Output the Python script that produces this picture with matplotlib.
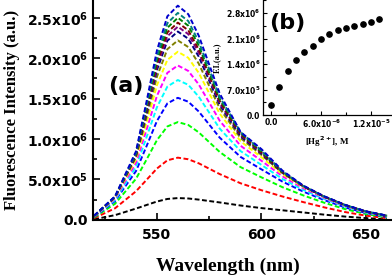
import matplotlib
matplotlib.use("Agg")
import matplotlib.pyplot as plt
from matplotlib.ticker import MultipleLocator

plt.rcParams['mathtext.default'] = 'bf'

wl = [520, 530, 540, 545, 550, 555, 560, 565, 570, 580, 590, 600, 610, 620, 630, 640, 650, 660]

# fluorescence intensity (x1e5 a.u.), one spectrum per Hg2+ addition
s00 = [0.08, 0.59, 1.40, 1.84, 2.27, 2.59, 2.70, 2.65, 2.51, 2.16, 1.78, 1.46, 1.19, 0.92, 0.65, 0.41, 0.22, 0.08]
s01 = [0.21, 1.44, 3.54, 4.94, 6.35, 7.37, 7.70, 7.50, 7.00, 5.67, 4.53, 3.67, 2.90, 2.20, 1.55, 0.97, 0.52, 0.21]
s02 = [0.30, 2.00, 5.08, 7.44, 9.86, 11.56, 12.10, 11.74, 10.83, 8.41, 6.53, 5.26, 4.05, 3.03, 2.12, 1.33, 0.73, 0.30]
s03 = [0.36, 2.33, 6.04, 9.09, 12.23, 14.41, 15.10, 14.62, 13.41, 10.18, 7.79, 6.25, 4.74, 3.50, 2.45, 1.54, 0.85, 0.36]
s04 = [0.40, 2.47, 6.57, 10.19, 13.93, 16.49, 17.30, 16.71, 15.24, 11.30, 8.51, 6.80, 5.07, 3.70, 2.58, 1.63, 0.90, 0.40]
s05 = [0.43, 2.63, 7.07, 11.13, 15.33, 18.19, 19.10, 18.43, 16.76, 12.27, 9.17, 7.31, 5.40, 3.92, 2.72, 1.72, 0.96, 0.43]
s06 = [0.46, 2.75, 7.49, 11.98, 16.64, 19.80, 20.80, 20.05, 18.18, 13.15, 9.73, 7.74, 5.66, 4.08, 2.83, 1.79, 1.00, 0.46]
s07 = [0.48, 2.81, 7.77, 12.64, 17.70, 21.12, 22.20, 21.38, 19.33, 13.80, 10.12, 8.03, 5.81, 4.15, 2.87, 1.82, 1.02, 0.48]
s08 = [0.49, 2.82, 7.92, 13.12, 18.52, 22.16, 23.30, 22.41, 20.20, 14.24, 10.35, 8.18, 5.85, 4.15, 2.87, 1.82, 1.03, 0.49]
s09 = [0.50, 2.84, 8.03, 13.39, 18.98, 22.72, 23.90, 22.98, 20.69, 14.50, 10.50, 8.29, 5.90, 4.17, 2.88, 1.83, 1.03, 0.50]
s10 = [0.50, 2.85, 8.10, 13.61, 19.35, 23.19, 24.40, 23.45, 21.09, 14.70, 10.60, 8.36, 5.92, 4.17, 2.87, 1.83, 1.03, 0.50]
s11 = [0.51, 2.86, 8.20, 13.88, 19.80, 23.76, 25.00, 24.02, 21.57, 14.96, 10.74, 8.46, 5.96, 4.18, 2.88, 1.83, 1.04, 0.51]
s12 = [0.52, 2.87, 8.29, 14.15, 20.25, 24.33, 25.60, 24.59, 22.05, 15.21, 10.87, 8.56, 6.00, 4.19, 2.88, 1.83, 1.04, 0.52]
s13 = [0.53, 2.92, 8.48, 14.58, 20.94, 25.18, 26.50, 25.44, 22.79, 15.64, 10.87, 8.75, 6.10, 4.24, 2.92, 1.86, 1.06, 0.53]
spectra = [s00, s01, s02, s03, s04, s05, s06, s07, s08, s09, s10, s11, s12, s13]

colors = ['#000000', '#ff0000', '#00ff00', '#0000ff', '#00ffff', '#ff00ff', '#ffff00',
          '#808000', '#000080', '#800080', '#800000', '#008000', '#008080', '#0000cc']

# inset: [Hg2+] (M) vs intensity at the maximum (x1e6)
hg = [0e-6, 1e-6, 2e-6, 3e-6, 4e-6, 5e-6, 6e-6, 7e-6, 8e-6, 9e-6, 10e-6, 11e-6, 12e-6, 13e-6]
fi = [0.27, 0.77, 1.21, 1.51, 1.73, 1.91, 2.08, 2.22, 2.33, 2.39, 2.44, 2.50, 2.56, 2.65]

fig = plt.figure(figsize=(3.92, 2.78), dpi=100)
ax = fig.add_axes([0.237, 0.209, 0.763, 0.791])

for s, c in zip(spectra, colors):
    ax.plot(wl, [v * 1e5 for v in s], color=c, lw=1.4, dashes=(2.5, 1.3))

ax.set_xlim(519.4, 662.4)
ax.set_ylim(0, 2.72e6)
ax.set_xticks([550, 600, 650])
ax.xaxis.set_minor_locator(MultipleLocator(25))
ax.set_yticks([0, 0.5e6, 1.0e6, 1.5e6, 2.0e6, 2.5e6])
ax.set_yticklabels(['0.0', r'5.0x10$^{5}$', r'1.0x10$^{6}$', r'1.5x10$^{6}$',
                    r'2.0x10$^{6}$', r'2.5x10$^{6}$'])
ax.yaxis.set_minor_locator(MultipleLocator(0.25e6))
ax.tick_params(which='both', direction='in', width=1.2, labelsize=10)
ax.tick_params(axis='x', pad=6)
ax.tick_params(which='major', length=5)
ax.tick_params(which='minor', length=3)
for lab in ax.get_xticklabels() + ax.get_yticklabels():
    lab.set_fontweight('bold')
for sp in ['top', 'right']:
    ax.spines[sp].set_visible(False)
for sp in ['left', 'bottom']:
    ax.spines[sp].set_linewidth(1.5)

ax.set_xlabel('Wavelength (nm)', family='Liberation Serif', fontweight='bold', fontsize=14)
ax.xaxis.set_label_coords(0.45, -0.17)
ax.set_ylabel('Fluorescence Intensity (a.u.)', family='Liberation Serif', fontweight='bold', fontsize=12)
ax.yaxis.set_label_coords(-0.243, 0.5)
ax.text(535.2, 1.66e6, '(a)', fontsize=16, fontweight='bold', ha='center', va='center')

# inset
ins = fig.add_axes([0.671, 0.586, 0.329, 0.414], facecolor='none')
ins.plot(hg, [v * 1e6 for v in fi], 'o', color='black', ms=3.8)
ins.set_xlim(-0.96e-6, 14.5e-6)
ins.set_ylim(0, 3.16e6)
ins.set_xticks([0, 6e-6, 12e-6])
ins.set_xticklabels(['0.0', r'6.0x10$^{-6}$', r'1.2x10$^{-5}$'])
ins.xaxis.set_minor_locator(MultipleLocator(3e-6))
ins.set_yticks([0, 0.7e6, 1.4e6, 2.1e6, 2.8e6])
ins.set_yticklabels(['0.0', r'7.0x10$^{5}$', r'1.4x10$^{6}$', r'2.1x10$^{6}$', r'2.8x10$^{6}$'])
ins.yaxis.set_minor_locator(MultipleLocator(0.35e6))
ins.tick_params(which='both', direction='in', width=0.8, labelsize=5.5, pad=2)
ins.tick_params(which='major', length=3)
ins.tick_params(which='minor', length=2)
for lab in ins.get_xticklabels() + ins.get_yticklabels():
    lab.set_fontweight('bold')
for sp in ['top', 'right']:
    ins.spines[sp].set_visible(False)
for sp in ['left', 'bottom']:
    ins.spines[sp].set_linewidth(0.9)
ins.set_xlabel('[Hg$^{2+}$], M', family='Liberation Serif', fontweight='bold', fontsize=6.5, labelpad=3)
ins.set_ylabel('F.I.(a.u.)', family='Liberation Serif', fontweight='bold', fontsize=6, labelpad=3)
ins.text(0.19, 0.8, '(b)', transform=ins.transAxes, fontsize=16, fontweight='bold',
         ha='center', va='center')

fig.savefig('out.png', dpi=100)
